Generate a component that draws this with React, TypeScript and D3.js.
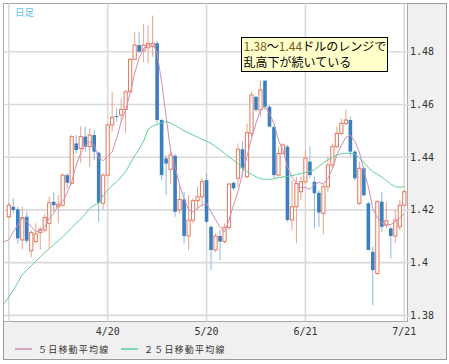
import React, { useEffect, useRef } from 'react';
import * as d3 from 'd3';

// x axis: trading-day index, gridlines every 22 days
const tickIndex = [0, 22, 44, 66, 88];
const tickLabels = ['', '4/20', '5/20', '6/21', '7/21'];
const priceTicks = [1.38, 1.4, 1.42, 1.44, 1.46, 1.48];

const open = [
  1.4174, 1.4212, 1.4202, 1.4086, 1.4174, 1.4045, 1.4080, 1.4114, 1.4124, 1.4149,
  1.4231, 1.4212, 1.4218, 1.4332, 1.4301, 1.4452, 1.4433, 1.4478, 1.4440, 1.4484,
  1.4417, 1.4225, 1.4332, 1.4522, 1.4556, 1.4560, 1.4581, 1.4648, 1.4771, 1.4825,
  1.4805, 1.4815, 1.4820, 1.4832, 1.4541, 1.4395, 1.4354, 1.4405, 1.4200, 1.4240,
  1.4101, 1.4161, 1.4235, 1.4250, 1.4313, 1.4136, 1.4048, 1.4101, 1.4080, 1.4134,
  1.4303, 1.4320, 1.4430, 1.4326, 1.4490, 1.4629, 1.4579, 1.4690, 1.4591, 1.4514,
  1.4332, 1.4414, 1.4440, 1.4162, 1.4212, 1.4269, 1.4307, 1.4383, 1.4307, 1.4265,
  1.4187, 1.4288, 1.4370, 1.4440, 1.4490, 1.4528, 1.4541, 1.4421, 1.4225, 1.4358,
  1.4225, 1.4041, 1.3959, 1.4231, 1.4142, 1.4130, 1.4101, 1.4136, 1.4218,
];
const close = [
  1.4218, 1.4200, 1.4092, 1.4171, 1.4083, 1.4114, 1.4109, 1.4126, 1.4171, 1.4227,
  1.4218, 1.4221, 1.4332, 1.4303, 1.4478, 1.4427, 1.4478, 1.4440, 1.4484, 1.4421,
  1.4227, 1.4332, 1.4522, 1.4551, 1.4553, 1.4581, 1.4648, 1.4771, 1.4825, 1.4800,
  1.4825, 1.4832, 1.4832, 1.4541, 1.4332, 1.4376, 1.4408, 1.4193, 1.4240, 1.4101,
  1.4161, 1.4235, 1.4250, 1.4307, 1.4155, 1.4048, 1.4101, 1.4080, 1.4134, 1.4298,
  1.4282, 1.4430, 1.4358, 1.4493, 1.4636, 1.4579, 1.4655, 1.4591, 1.4516, 1.4332,
  1.4414, 1.4446, 1.4162, 1.4212, 1.4300, 1.4307, 1.4396, 1.4332, 1.4263, 1.4190,
  1.4288, 1.4370, 1.4440, 1.4490, 1.4528, 1.4541, 1.4421, 1.4320, 1.4358, 1.4256,
  1.4048, 1.3972, 1.4231, 1.4136, 1.4159, 1.4101, 1.4162, 1.4218, 1.4269,
];
const high = [
  1.4227, 1.4244, 1.4212, 1.4212, 1.4193, 1.4124, 1.4149, 1.4136, 1.4184, 1.4250,
  1.4267, 1.4256, 1.4339, 1.4339, 1.4484, 1.4484, 1.4518, 1.4516, 1.4509, 1.4505,
  1.4421, 1.4339, 1.4528, 1.4648, 1.4585, 1.4623, 1.4655, 1.4775, 1.4876, 1.4876,
  1.4905, 1.4900, 1.4937, 1.4840, 1.4545, 1.4408, 1.4421, 1.4414, 1.4300, 1.4269,
  1.4256, 1.4244, 1.4288, 1.4320, 1.4339, 1.4142, 1.4111, 1.4124, 1.4149, 1.4303,
  1.4307, 1.4452, 1.4459, 1.4528, 1.4648, 1.4632, 1.4690, 1.4692, 1.4598, 1.4520,
  1.4440, 1.4452, 1.4446, 1.4313, 1.4326, 1.4326, 1.4427, 1.4440, 1.4326, 1.4275,
  1.4300, 1.4402, 1.4452, 1.4516, 1.4547, 1.4579, 1.4553, 1.4427, 1.4383, 1.4364,
  1.4231, 1.4060, 1.4237, 1.4269, 1.4231, 1.4136, 1.4200, 1.4237, 1.4275,
];
const low = [
  1.4168, 1.4187, 1.4073, 1.4050, 1.4073, 1.4020, 1.4073, 1.4050, 1.4114, 1.4054,
  1.4193, 1.4149, 1.4212, 1.4282, 1.4294, 1.4414, 1.4377, 1.4421, 1.4364, 1.4389,
  1.4155, 1.4202, 1.4326, 1.4497, 1.4535, 1.4535, 1.4493, 1.4642, 1.4768, 1.4796,
  1.4760, 1.4756, 1.4780, 1.4528, 1.4313, 1.4256, 1.4300, 1.4174, 1.4187, 1.4073,
  1.4048, 1.4149, 1.4200, 1.4212, 1.4149, 1.3972, 1.4041, 1.4010, 1.4073, 1.4124,
  1.4275, 1.4288, 1.4326, 1.4320, 1.4478, 1.4572, 1.4554, 1.4579, 1.4513, 1.4320,
  1.4326, 1.4408, 1.4155, 1.4124, 1.4073, 1.4237, 1.4300, 1.4320, 1.4130, 1.4136,
  1.4108, 1.4269, 1.4358, 1.4433, 1.4484, 1.4522, 1.4402, 1.4313, 1.4218, 1.4250,
  1.4048, 1.3839, 1.3953, 1.4117, 1.4130, 1.4016, 1.4073, 1.4124, 1.4212,
];

// moving averages start one day before the first visible candle
const ma5 = [
  1.4080,
  1.4086, 1.4117, 1.4143, 1.4168, 1.4159, 1.4136, 1.4117, 1.4121, 1.4136, 1.4168,
  1.4187, 1.4219, 1.4231, 1.4265, 1.4307, 1.4370, 1.4414, 1.4446, 1.4459, 1.4446,
  1.4396, 1.4387, 1.4402, 1.4421, 1.4471, 1.4535, 1.4579, 1.4642, 1.4718, 1.4775,
  1.4813, 1.4825, 1.4832, 1.4794, 1.4686, 1.4553, 1.4427, 1.4364, 1.4294, 1.4244,
  1.4200, 1.4193, 1.4206, 1.4219, 1.4225, 1.4193, 1.4162, 1.4136, 1.4117, 1.4162,
  1.4219, 1.4269, 1.4339, 1.4402, 1.4471, 1.4528, 1.4579, 1.4591, 1.4566, 1.4528,
  1.4465, 1.4427, 1.4364, 1.4326, 1.4301, 1.4285, 1.4285, 1.4278, 1.4295, 1.4305,
  1.4298, 1.4320, 1.4355, 1.4410, 1.4445, 1.4475, 1.4484, 1.4460, 1.4420, 1.4350,
  1.4288, 1.4205, 1.4170, 1.4150, 1.4143, 1.4145, 1.4155, 1.4170, 1.4185,
];
const ma25 = [
  1.3846,
  1.3870, 1.3895, 1.3925, 1.3955, 1.3972, 1.3988, 1.4005, 1.4022, 1.4038, 1.4053,
  1.4068, 1.4083, 1.4098, 1.4115, 1.4132, 1.4150, 1.4165, 1.4185, 1.4205, 1.4218,
  1.4225, 1.4255, 1.4275, 1.4292, 1.4307, 1.4325, 1.4345, 1.4375, 1.4405, 1.4430,
  1.4462, 1.4505, 1.4518, 1.4524, 1.4530, 1.4535, 1.4530, 1.4520, 1.4510, 1.4500,
  1.4492, 1.4484, 1.4476, 1.4468, 1.4460, 1.4452, 1.4440, 1.4428, 1.4415, 1.4402,
  1.4388, 1.4376, 1.4362, 1.4345, 1.4335, 1.4326, 1.4318, 1.4316, 1.4316, 1.4318,
  1.4322, 1.4325, 1.4327, 1.4330, 1.4334, 1.4338, 1.4342, 1.4346, 1.4352, 1.4365,
  1.4378, 1.4390, 1.4400, 1.4408, 1.4413, 1.4415, 1.4415, 1.4411, 1.4398, 1.4380,
  1.4360, 1.4345, 1.4335, 1.4325, 1.4312, 1.4298, 1.4288, 1.4286, 1.4288,
];

const legendNames = ['５日移動平均線', '２５日移動平均線'];
const noteLines = ['1.38～1.44ドルのレンジで', '乱高下が続いている'];

const MA5_COLOR = '#cf8fb2';
const MA25_COLOR = '#5fcf98';

const App: React.FC = () => {
  const ref = useRef<SVGSVGElement>(null);

  useEffect(() => {
    if (!ref.current) return;
    const svg = d3.select(ref.current);
    svg.selectAll('*').remove();

    const plot = { left: 3.5, top: 3.5, right: 407.5, bottom: 321.5 };

    const x = d3.scaleLinear().domain([0, 88]).range([8.8, 404.3]);
    const y = d3.scaleLinear().domain([1.38, 1.48]).range([315.4, 51.7]);

    // frame + panels
    svg.append('rect')
      .attr('x', 3.5).attr('y', 3.5).attr('width', 443).attr('height', 356)
      .attr('fill', '#f0f0f0').attr('stroke', '#9a9a9a');
    svg.append('rect')
      .attr('x', plot.left).attr('y', plot.top)
      .attr('width', plot.right - plot.left).attr('height', plot.bottom - plot.top)
      .attr('fill', '#fff').attr('stroke', '#a8a8a8');

    svg.append('defs').append('clipPath').attr('id', 'plot-clip')
      .append('rect')
      .attr('x', plot.left + 0.5).attr('y', plot.top + 0.5)
      .attr('width', plot.right - plot.left - 1).attr('height', plot.bottom - plot.top - 1);

    // grid
    svg.append('g').selectAll('line')
      .data(priceTicks)
      .enter().append('line')
      .attr('x1', plot.left).attr('x2', plot.right + 3)
      .attr('y1', d => y(d)).attr('y2', d => y(d))
      .attr('stroke', '#dadada').attr('stroke-width', 1.6);
    svg.append('g').selectAll('line')
      .data(tickIndex)
      .enter().append('line')
      .attr('x1', d => x(d)).attr('x2', d => x(d))
      .attr('y1', plot.top).attr('y2', plot.bottom)
      .attr('stroke', '#dadada').attr('stroke-width', 1.6);

    // right axis labels
    svg.append('g').selectAll('text')
      .data(priceTicks)
      .enter().append('text')
      .attr('x', 410).attr('y', d => y(d) + 3.5)
      .style('font-family', '"DejaVu Sans Mono", monospace')
      .style('font-size', '10px')
      .attr('fill', '#333')
      .text(d => String(d));

    // date labels
    svg.append('g').selectAll('text')
      .data(tickIndex)
      .enter().append('text')
      .attr('x', d => x(d)).attr('y', 335)
      .attr('text-anchor', 'middle')
      .style('font-family', '"DejaVu Sans Mono", monospace')
      .style('font-size', '10px')
      .attr('fill', '#333')
      .text((_, i) => tickLabels[i]);

    const g = svg.append('g').attr('clip-path', 'url(#plot-clip)');

    // candles
    const idx = d3.range(open.length);
    g.selectAll('.wick')
      .data(idx)
      .enter().append('line')
      .attr('x1', i => x(i)).attr('x2', i => x(i))
      .attr('y1', i => y(high[i])).attr('y2', i => y(low[i]))
      .attr('stroke', i => (close[i] >= open[i] ? '#eda08b' : '#8cb8e0'))
      .attr('stroke-width', 1);

    g.selectAll('.body')
      .data(idx)
      .enter().append('rect')
      .attr('x', i => (close[i] >= open[i] ? x(i) - 1.6 : x(i) - 1.8))
      .attr('width', i => (close[i] >= open[i] ? 3.2 : 3.6))
      .attr('y', i => y(Math.max(open[i], close[i])))
      .attr('height', i => Math.max(1, Math.abs(y(open[i]) - y(close[i]))))
      .attr('fill', i => (close[i] >= open[i] ? '#fff' : '#3a7fc2'))
      .attr('stroke', i => (close[i] >= open[i] ? '#e2785c' : 'none'))
      .attr('stroke-width', 1);

    // moving averages
    const maLine = d3.line<number>()
      .x((_, j) => x(j - 1))
      .y(d => y(d));
    g.append('path').datum(ma25)
      .attr('fill', 'none').attr('stroke', MA25_COLOR).attr('stroke-width', 1)
      .attr('d', maLine);
    g.append('path').datum(ma5)
      .attr('fill', 'none').attr('stroke', MA5_COLOR).attr('stroke-width', 1)
      .attr('d', maLine);

    // title
    svg.append('text')
      .attr('x', 15).attr('y', 16)
      .style('font-family', '"Noto Sans CJK JP", sans-serif')
      .style('font-size', '9.5px')
      .attr('fill', '#5bc2f0')
      .text('日足');

    // annotation
    svg.append('rect')
      .attr('x', 241.5).attr('y', 37.5).attr('width', 146).attr('height', 34)
      .attr('fill', '#ffffcc').attr('stroke', '#000');
    noteLines.forEach((line, li) => {
      const t = svg.append('text')
        .attr('x', 243.5).attr('y', 51 + li * 15.5)
        .style('font-family', '"Noto Sans CJK JP", sans-serif')
        .style('font-size', '12px')
        .attr('fill', '#000');
      line.split(/(\d\.\d+)/).filter(s => s).forEach(part => {
        t.append('tspan')
          .attr('fill', /^\d\.\d+$/.test(part) ? '#7a5a14' : '#000')
          .text(part);
      });
    });

    // legend
    const legendX = [15, 121];
    const legendColors = [MA5_COLOR, MA25_COLOR];
    legendNames.forEach((name, i) => {
      svg.append('line')
        .attr('x1', legendX[i]).attr('x2', legendX[i] + 17)
        .attr('y1', 349).attr('y2', 349)
        .attr('stroke', legendColors[i]).attr('stroke-width', 1.5);
      svg.append('text')
        .attr('x', legendX[i] + 23).attr('y', 352.5)
        .style('font-family', '"Noto Sans CJK JP", sans-serif')
        .style('font-size', '9px')
        .style('letter-spacing', '1.2px')
        .attr('fill', '#333')
        .text(name);
    });
  }, []);

  return (
    <svg
      ref={ref}
      width={449}
      height={364}
      style={{ position: 'absolute', left: 0, top: 0 }}
    />
  );
};

export default App;
